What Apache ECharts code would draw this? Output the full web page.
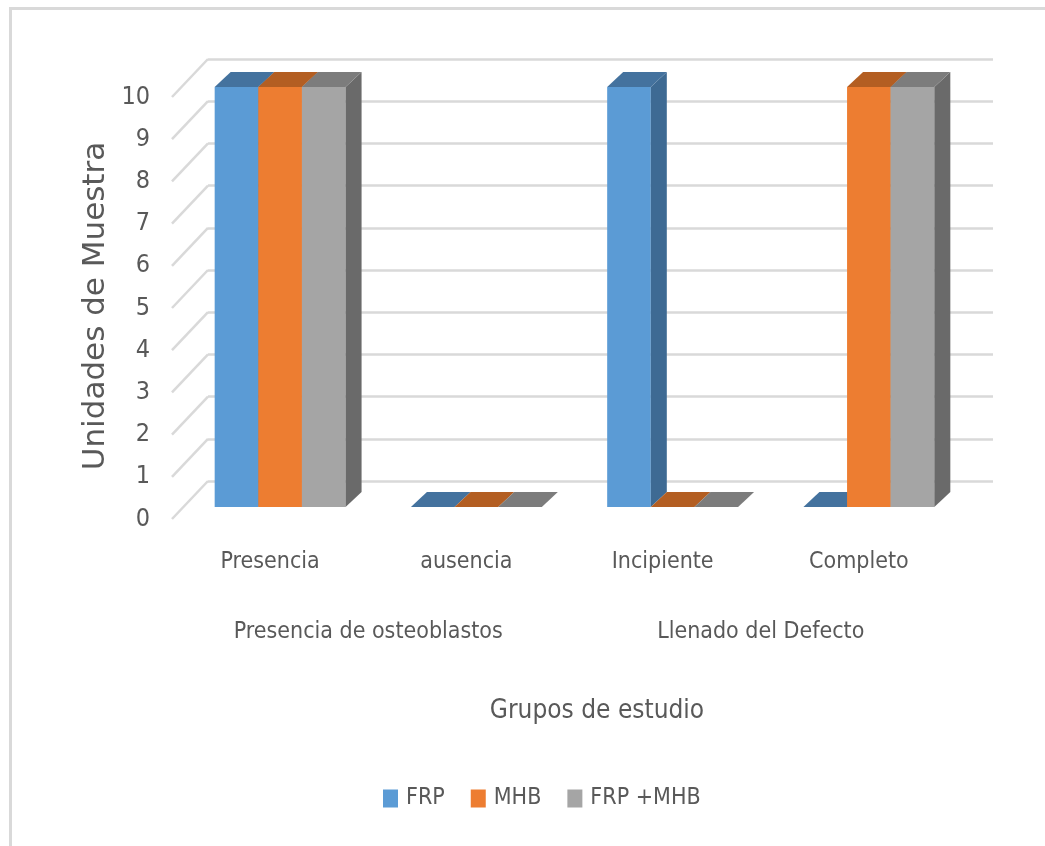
<!DOCTYPE html>
<html>
<head>
<meta charset="utf-8">
<script src="https://cdn.jsdelivr.net/npm/echarts@6/dist/echarts.min.js"></script>
<style>
  html, body { margin: 0; padding: 0; background: #ffffff; }
  #chart { width: 1045px; height: 846px; }
</style>
</head>
<body>
<div id="chart"></div>
<script>
// Study groups (lower row) and their sub-categories (upper row)
const categories = ['Presencia', 'ausencia', 'Incipiente', 'Completo'];
const groupLabels = ['Presencia de osteoblastos', 'Llenado del Defecto'];
const seriesNames = ['FRP', 'MHB', 'FRP +MHB'];

// Sample units per category
const frpValues = [10, 0, 10, 0];
const mhbValues = [10, 0, 0, 10];
const frpMhbValues = [10, 0, 0, 10];

// Value axis ticks
const yMin = 0;
const yMax = 10;
const yStep = 1;

const xTitle = 'Grupos de estudio';
const yTitle = 'Unidades de Muestra';

// Face colours: front, top, side
const palettes = [
  { front: '#5B9BD5', top: '#44729E', side: '#3E6A93' },
  { front: '#ED7D31', top: '#B35E22', side: '#A9571F' },
  { front: '#A5A5A5', top: '#7C7C7C', side: '#6A6A6A' }
];

const TEXT = '#595959';
const GRID_LINE = '#D9D9D9';
const NARROW = "'Liberation Sans Narrow', 'DejaVu Sans Condensed', 'Liberation Sans', sans-serif";

// Oblique projection offsets (pixels)
const BAR_DEPTH = [16, -15];      // front face -> back face of a bar
const WALL_DEPTH = [-36, 38];     // back wall -> front edge of side wall

const chart = echarts.init(document.getElementById('chart'), null, { renderer: 'canvas' });

function toPairs(values) {
  return values.map((v, i) => [i, v]);
}

function barRenderer(idx) {
  const pal = palettes[idx];
  return function (params, api) {
    const ci = api.value(0);
    const v = api.value(1);
    const base = api.coord([ci, 0]);
    const top = api.coord([ci, v]);
    const band = api.size([1, 0])[0];
    const groupW = band * 0.667;
    const bw = groupW / 3;
    const x0 = base[0] - groupW / 2 + idx * bw;
    const x1 = x0 + bw;
    const yb = base[1];
    const yt = top[1];
    const dx = BAR_DEPTH[0], dy = BAR_DEPTH[1];
    const children = [];
    if (yb - yt > 0.5) {
      children.push({
        type: 'polygon',
        shape: { points: [[x0, yt], [x1, yt], [x1, yb], [x0, yb]] },
        style: { fill: pal.front }
      });
      children.push({
        type: 'polygon',
        shape: { points: [[x1, yt], [x1 + dx, yt + dy], [x1 + dx, yb + dy], [x1, yb]] },
        style: { fill: pal.side }
      });
    }
    children.push({
      type: 'polygon',
      shape: { points: [[x0, yt], [x1, yt], [x1 + dx, yt + dy], [x0 + dx, yt + dy]] },
      style: { fill: pal.top }
    });
    return { type: 'group', children: children };
  };
}

// Diagonal grid lines on the side wall, one per tick value
const sideTicks = [];
for (let v = yMin; v <= yMax; v += yStep) sideTicks.push([0, v]);

const option = {
  animation: false,
  backgroundColor: '#ffffff',
  legend: {
    data: seriesNames,
    left: 383,
    top: 787,
    padding: 0,
    icon: 'rect',
    itemWidth: 15,
    itemHeight: 18,
    itemGap: 26,
    textStyle: { color: TEXT, fontSize: 23, fontFamily: NARROW, padding: [0, 0, 0, 3] }
  },
  grid: [
    // bar front plane
    { left: 182, top: 87, width: 785, height: 420 },
    // back wall
    { left: 208, top: 59, width: 785, height: 422 },
    // front edge of side wall (labels)
    { left: 172, top: 97, width: 785, height: 422 }
  ],
  xAxis: [
    { type: 'category', gridIndex: 0, data: categories, show: false },
    { type: 'category', gridIndex: 1, data: categories, show: false },
    {
      type: 'category', gridIndex: 2, data: categories,
      axisLine: { show: false }, axisTick: { show: false },
      axisLabel: { color: TEXT, fontSize: 23, fontFamily: NARROW, margin: 32, interval: 0 }
    },
    {
      type: 'category', gridIndex: 2, data: groupLabels, position: 'bottom',
      axisLine: { show: false }, axisTick: { show: false },
      axisLabel: { color: TEXT, fontSize: 23, fontFamily: NARROW, margin: 102, interval: 0 }
    }
  ],
  yAxis: [
    { type: 'value', gridIndex: 0, min: yMin, max: yMax, interval: yStep, show: false },
    {
      type: 'value', gridIndex: 1, min: yMin, max: yMax, interval: yStep,
      axisLine: { show: false }, axisTick: { show: false }, axisLabel: { show: false },
      splitLine: { show: true, lineStyle: { color: GRID_LINE, width: 2.5 } }
    },
    {
      type: 'value', gridIndex: 2, min: yMin, max: yMax, interval: yStep,
      axisLine: { show: false }, axisTick: { show: false },
      splitLine: { show: false },
      axisLabel: { color: TEXT, fontSize: 25, fontFamily: NARROW, margin: 22 }
    }
  ],
  series: [
    {
      type: 'custom', name: 'sideWall', xAxisIndex: 1, yAxisIndex: 1,
      silent: true, data: sideTicks, z: 1,
      renderItem: function (params, api) {
        const p = api.coord([0, api.value(1)]);
        const x = params.coordSys.x;
        return {
          type: 'line',
          shape: { x1: x, y1: p[1], x2: x + WALL_DEPTH[0], y2: p[1] + WALL_DEPTH[1] },
          style: { stroke: GRID_LINE, lineWidth: 2.5 }
        };
      }
    },
    {
      type: 'custom', name: seriesNames[0], xAxisIndex: 0, yAxisIndex: 0,
      itemStyle: { color: palettes[0].front },
      data: toPairs(frpValues), renderItem: barRenderer(0), z: 3
    },
    {
      type: 'custom', name: seriesNames[1], xAxisIndex: 0, yAxisIndex: 0,
      itemStyle: { color: palettes[1].front },
      data: toPairs(mhbValues), renderItem: barRenderer(1), z: 4
    },
    {
      type: 'custom', name: seriesNames[2], xAxisIndex: 0, yAxisIndex: 0,
      itemStyle: { color: palettes[2].front },
      data: toPairs(frpMhbValues), renderItem: barRenderer(2), z: 5
    }
  ],
  graphic: [
    {
      type: 'rect', left: 8, top: 6, silent: true, z: 0,
      shape: { width: 1200, height: 1000 },
      style: { fill: 'none', stroke: GRID_LINE, lineWidth: 3 }
    },
    {
      type: 'text', x: 597, y: 711, silent: true,
      style: {
        text: xTitle, fill: TEXT, fontSize: 26, fontFamily: NARROW,
        textAlign: 'center', textVerticalAlign: 'middle'
      }
    },
    {
      type: 'text', x: 96, y: 306, rotation: Math.PI / 2, silent: true,
      style: {
        text: yTitle, fill: TEXT, fontSize: 31, fontWeight: 'normal',
        fontFamily: "'DejaVu Sans', sans-serif",
        textAlign: 'center', textVerticalAlign: 'middle'
      }
    }
  ]
};

chart.setOption(option);
</script>
</body>
</html>
